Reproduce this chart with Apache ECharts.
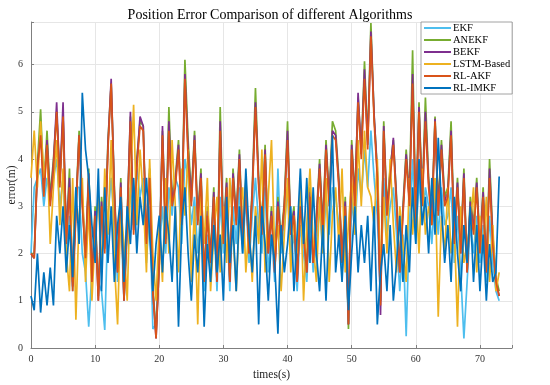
<!DOCTYPE html>
<html>
<head>
<meta charset="utf-8">
<script src="https://cdn.jsdelivr.net/npm/echarts@6/dist/echarts.min.js"></script>
<style>html,body{margin:0;padding:0;background:#fff}#c{width:550px;height:385px}</style>
</head>
<body>
<div id="c"></div>
<script>
// sample times: 0 .. 73 s every 0.5 s
const timeStep = 0.5;
const seriesNames = ['EKF', 'ANEKF', 'BEKF', 'LSTM-Based', 'RL-AKF', 'RL-IMKF'];
const xTicks = [0, 10, 20, 30, 40, 50, 60, 70];
const yTicks = [0, 1, 2, 3, 4, 5, 6];

const ekf = [
  2.0, 3.4, 3.6, 3.8, 3.0, 3.6, 3.2, 3.6, 4.0, 3.0,
  3.6, 2.0, 2.8, 1.2, 3.4, 3.4, 2.0, 1.6, 0.45, 1.6,
  2.2, 1.4, 1.2, 0.38, 2.8, 3.6, 2.6, 1.4, 2.8, 1.0,
  2.4, 3.4, 2.6, 3.8, 3.2, 3.6, 1.8, 3.0, 0.4, 0.5,
  2.0, 3.0, 2.0, 3.4, 2.8, 3.6, 3.4, 2.2, 4.0, 3.6,
  2.6, 3.2, 2.0, 3.0, 1.2, 2.4, 1.6, 2.8, 1.2, 3.2,
  2.0, 3.0, 1.2, 3.0, 2.2, 3.4, 2.0, 3.2, 1.8, 2.8,
  3.6, 2.6, 2.0, 3.4, 1.6, 2.4, 1.4, 3.8, 2.0, 2.6,
  3.4, 2.0, 2.4, 1.2, 2.6, 2.0, 1.4, 2.8, 1.6, 2.2,
  3.0, 2.0, 3.2, 2.4, 3.4, 3.2, 2.6, 1.6, 2.4, 0.5,
  3.2, 2.4, 3.8, 3.2, 4.2, 3.4, 4.6, 3.6, 2.8, 1.0,
  3.6, 2.4, 3.0, 3.4, 2.4, 1.2, 2.4, 0.25, 2.6, 4.0,
  2.2, 3.6, 2.6, 3.4, 3.0, 2.2, 3.4, 2.4, 3.4, 2.6,
  2.8, 3.4, 1.8, 2.8, 1.6, 0.2, 1.4, 2.6, 2.0, 2.8,
  1.8, 2.6, 1.4, 2.8, 1.8, 1.2, 1.0
];
const anekf = [
  2.0, 2.0, 3.9, 5.05, 3.4, 4.6, 3.2, 4.0, 5.0, 3.6,
  4.9, 2.4, 3.8, 1.4, 3.0, 4.6, 3.2, 2.0, 3.8, 1.5,
  3.0, 1.1, 3.2, 2.2, 4.4, 5.6, 3.4, 1.7, 3.6, 1.1,
  2.8, 4.9, 2.6, 4.0, 4.8, 4.7, 2.3, 3.8, 1.3, 0.3,
  1.9, 4.6, 2.4, 5.1, 3.2, 3.6, 4.4, 2.8, 6.1, 4.4,
  3.2, 4.6, 2.8, 3.8, 1.5, 3.0, 2.0, 3.4, 1.5, 5.1,
  2.4, 3.6, 1.5, 3.8, 2.8, 4.2, 2.3, 3.6, 2.1, 3.4,
  5.5, 3.6, 2.6, 4.3, 2.1, 3.0, 1.7, 3.2, 2.3, 3.1,
  4.8, 2.5, 3.0, 1.5, 3.2, 2.5, 1.7, 3.4, 1.9, 2.8,
  4.0, 2.6, 4.4, 3.2, 4.8, 4.6, 3.6, 1.9, 3.2, 0.4,
  4.4, 3.2, 5.3, 4.2, 6.07, 4.4, 6.88, 4.9, 3.8, 1.0,
  4.8, 3.0, 3.8, 4.4, 3.2, 1.7, 3.0, 4.2, 3.2, 6.3,
  2.8, 5.2, 3.2, 5.3, 3.6, 2.8, 4.9, 3.0, 4.4, 3.2,
  3.4, 4.8, 2.4, 3.6, 2.1, 3.8, 1.7, 3.2, 2.6, 3.6,
  2.2, 3.4, 1.7, 4.0, 2.4, 1.5, 1.2
];
const bekf = [
  2.0, 1.9, 3.8, 4.6, 3.3, 4.4, 3.1, 3.9, 5.2, 3.5,
  5.2, 2.3, 3.6, 1.3, 2.9, 4.5, 3.1, 1.9, 3.7, 1.4,
  2.9, 1.0, 3.1, 2.1, 4.3, 5.7, 3.3, 1.6, 3.5, 1.0,
  2.7, 5.0, 2.5, 3.9, 4.9, 4.7, 2.2, 3.7, 1.2, 0.2,
  1.8, 4.7, 2.3, 4.8, 3.1, 3.5, 4.3, 2.7, 5.8, 4.2,
  3.1, 4.5, 2.7, 3.7, 1.4, 2.9, 1.9, 3.3, 1.4, 4.8,
  2.3, 3.5, 1.4, 3.7, 2.7, 4.1, 2.2, 3.5, 2.0, 3.3,
  5.2, 3.5, 2.5, 4.2, 2.0, 2.9, 1.6, 3.1, 2.2, 3.0,
  4.6, 2.4, 2.9, 1.4, 3.1, 2.4, 1.6, 3.3, 1.8, 2.7,
  3.9, 2.5, 4.3, 3.1, 4.6, 4.5, 3.5, 1.8, 3.1, 0.5,
  4.3, 3.1, 5.4, 4.1, 5.9, 4.3, 6.7, 4.94, 3.7, 0.7,
  4.7, 2.9, 3.7, 4.45, 3.1, 1.6, 2.9, 4.1, 3.1, 5.8,
  2.7, 5.1, 3.1, 5.0, 3.5, 2.7, 4.85, 2.9, 4.3, 3.1,
  3.3, 4.6, 2.3, 3.5, 2.0, 3.7, 1.6, 3.1, 2.5, 3.5,
  2.1, 3.3, 1.6, 3.8, 2.3, 1.4, 1.1
];
const lstm = [
  3.6, 4.6, 3.4, 4.8, 3.6, 4.2, 2.2, 3.4, 4.4, 2.6,
  3.8, 2.0, 1.2, 3.6, 0.6, 2.8, 3.6, 1.4, 3.0, 1.0,
  2.4, 3.2, 1.6, 3.8, 2.4, 4.4, 1.8, 0.5, 3.0, 2.2,
  1.0, 3.4, 5.15, 2.6, 4.2, 3.2, 1.6, 4.0, 2.0, 1.0,
  2.6, 1.4, 3.6, 2.0, 4.4, 3.0, 1.6, 3.8, 2.8, 4.2,
  1.4, 3.0, 0.5, 3.4, 2.2, 3.6, 1.2, 2.4, 3.2, 1.6,
  3.0, 1.8, 3.6, 2.4, 1.2, 2.8, 3.4, 1.6, 2.6, 1.4,
  3.0, 2.2, 4.2, 1.6, 3.2, 4.4, 2.0, 2.6, 1.2, 2.4,
  3.6, 1.6, 2.8, 2.0, 3.4, 1.0, 2.6, 3.8, 2.2, 1.4,
  3.2, 2.0, 3.6, 1.4, 2.8, 3.4, 2.2, 3.8, 1.6, 2.6,
  3.6, 2.4, 4.4, 3.0, 4.6, 3.4, 3.2, 2.6, 4.0, 1.6,
  3.2, 2.0, 4.0, 2.6, 1.6, 3.0, 2.2, 1.4, 3.6, 2.4,
  3.4, 2.0, 3.8, 2.4, 3.0, 2.6, 3.6, 0.66, 2.8, 2.0,
  3.4, 2.0, 2.6, 0.45, 3.0, 1.8, 2.2, 2.6, 3.4, 1.6,
  2.8, 2.0, 3.2, 1.4, 2.6, 1.2, 1.6
];
const rlakf = [
  2.0, 1.9, 3.8, 4.5, 3.2, 4.3, 3.0, 3.8, 5.0, 3.4,
  4.9, 2.2, 3.4, 1.2, 2.8, 4.5, 3.0, 1.9, 3.6, 1.4,
  2.8, 1.0, 3.0, 2.0, 4.2, 5.6, 3.2, 1.6, 3.4, 1.0,
  2.6, 4.8, 2.4, 3.8, 4.7, 4.6, 2.2, 3.6, 1.2, 0.2,
  1.8, 4.5, 2.2, 4.6, 3.0, 3.4, 4.2, 2.6, 5.7, 4.0,
  3.0, 4.4, 2.6, 3.6, 1.4, 2.8, 1.8, 3.2, 1.4, 4.6,
  2.2, 3.4, 1.4, 3.6, 2.6, 4.0, 2.2, 3.4, 2.0, 3.2,
  5.1, 3.4, 2.4, 4.1, 2.0, 2.8, 1.6, 3.0, 2.2, 3.0,
  4.4, 2.4, 2.8, 1.4, 3.0, 2.4, 1.6, 3.2, 1.8, 2.6,
  3.8, 2.4, 4.2, 3.0, 4.5, 4.4, 3.4, 1.8, 3.0, 0.5,
  4.2, 3.0, 5.2, 4.0, 5.7, 4.2, 6.6, 4.8, 3.6, 0.9,
  4.6, 2.8, 3.6, 4.3, 3.0, 1.6, 2.8, 4.0, 3.0, 5.6,
  2.6, 5.0, 3.0, 4.8, 3.4, 2.6, 4.8, 2.8, 4.2, 3.0,
  3.2, 4.5, 2.2, 3.4, 2.0, 3.6, 1.6, 3.0, 2.4, 3.4,
  2.0, 3.2, 1.6, 3.6, 2.2, 1.4, 1.1
];
const rlimkf = [
  1.1, 0.8, 2.0, 0.75, 1.6, 0.9, 1.7, 0.9, 2.8, 2.0,
  3.0, 1.6, 2.6, 1.5, 3.4, 2.2, 5.4, 4.2, 3.6, 2.6,
  1.8, 3.8, 1.2, 3.4, 1.8, 3.0, 1.4, 2.6, 3.2, 1.4,
  3.0, 2.2, 3.6, 2.0, 3.2, 2.6, 3.6, 2.4, 1.2, 2.2,
  2.8, 1.6, 3.0, 2.4, 1.4, 3.0, 0.45, 2.6, 3.4, 2.0,
  1.0, 2.4, 1.6, 2.8, 0.45, 2.2, 1.4, 2.6, 1.6, 2.4,
  1.0, 3.2, 1.8, 2.6, 1.2, 3.0, 2.0, 3.8, 2.4, 1.6,
  2.8, 0.5, 3.0, 2.2, 1.0, 2.4, 1.8, 0.3, 2.6, 1.6,
  2.2, 3.0, 1.2, 2.4, 3.8, 2.2, 3.6, 1.8, 3.4, 2.0,
  1.2, 2.6, 1.0, 2.8, 4.5, 1.6, 2.4, 1.4, 2.8, 0.8,
  2.0, 3.0, 1.6, 2.6, 1.8, 2.8, 1.2, 3.0, 0.5, 1.6,
  2.2, 1.2, 2.6, 1.0, 1.8, 2.8, 1.4, 2.6, 1.6, 3.4,
  2.2, 4.0, 2.6, 3.2, 2.0, 3.6, 2.4, 4.45, 3.0, 1.8,
  2.6, 1.4, 3.2, 2.0, 1.2, 2.6, 1.8, 3.0, 1.4, 2.6,
  1.2, 2.4, 1.0, 2.2, 1.4, 1.6, 3.63
];

const allValues = [ekf, anekf, bekf, lstm, rlakf, rlimkf];
const colors = ['#4DBEEE', '#77AC30', '#7E2F8E', '#EDB120', '#D95319', '#0072BD'];
const serif = '"Liberation Serif", "DejaVu Serif", serif';

function pairs(vals) { return vals.map((v, i) => [i * timeStep, v]); }

const chart = echarts.init(document.getElementById('c'), null, { renderer: 'canvas' });
chart.setOption({
  animation: false,
  backgroundColor: '#fff',
  title: {
    text: 'Position Error Comparison of different Algorithms',
    left: 265, top: 3, textAlign: 'center',
    textStyle: { fontFamily: serif, fontSize: 14, fontWeight: 'normal', color: '#000' }
  },
  legend: {
    data: seriesNames,
    orient: 'vertical',
    left: 421, top: 22,
    icon: 'rect', itemWidth: 27, itemHeight: 2,
    itemGap: 0,
    padding: [0, 2, 0, 3],
    backgroundColor: '#fff',
    borderColor: '#8a8a8a', borderWidth: 0.8, borderRadius: 0,
    textStyle: { fontFamily: serif, fontSize: 10.5, color: '#000', lineHeight: 12, padding: [0, 0, 0, -3] }
  },
  grid: { left: 31, right: 38, top: 22, bottom: 37, containLabel: false, outerBoundsMode: 'none' },
  xAxis: {
    type: 'value', min: 0, max: 75, interval: 10,
    name: 'times(s)', nameLocation: 'middle', nameGap: 21,
    nameTextStyle: { fontFamily: serif, fontSize: 11.5, color: '#222' },
    axisLine: { show: true, lineStyle: { color: '#7f7f7f', width: 1 } },
    axisTick: { show: true, inside: true, length: 3, lineStyle: { color: '#7f7f7f' } },
    axisLabel: { fontFamily: serif, fontSize: 10, color: '#333', margin: 6,
      formatter: v => (xTicks.indexOf(v) >= 0 ? String(v) : '') },
    splitLine: { show: true, lineStyle: { color: '#e6e6e6', width: 1 } }
  },
  yAxis: {
    type: 'value', min: 0, max: 6.9, interval: 1,
    name: 'error(m)', nameLocation: 'middle', nameGap: 13, nameRotate: 90,
    nameMoveOverlap: false,
    nameTextStyle: { fontFamily: serif, fontSize: 11.5, color: '#222' },
    axisLine: { show: true, lineStyle: { color: '#7f7f7f', width: 1 } },
    axisTick: { show: true, inside: true, length: 3, lineStyle: { color: '#7f7f7f' } },
    axisLabel: { fontFamily: serif, fontSize: 10, color: '#333', margin: 8,
      formatter: v => (yTicks.indexOf(v) >= 0 ? String(v) : '') },
    splitLine: { show: true, lineStyle: { color: '#e6e6e6', width: 1 } }
  },
  series: seriesNames.map((n, k) => ({
    name: n, type: 'line', data: pairs(allValues[k]),
    showSymbol: false, symbol: 'none',
    lineStyle: { color: colors[k], width: 1.7 },
    itemStyle: { color: colors[k] },
    z: 2 + k
  }))
});
</script>
</body>
</html>
